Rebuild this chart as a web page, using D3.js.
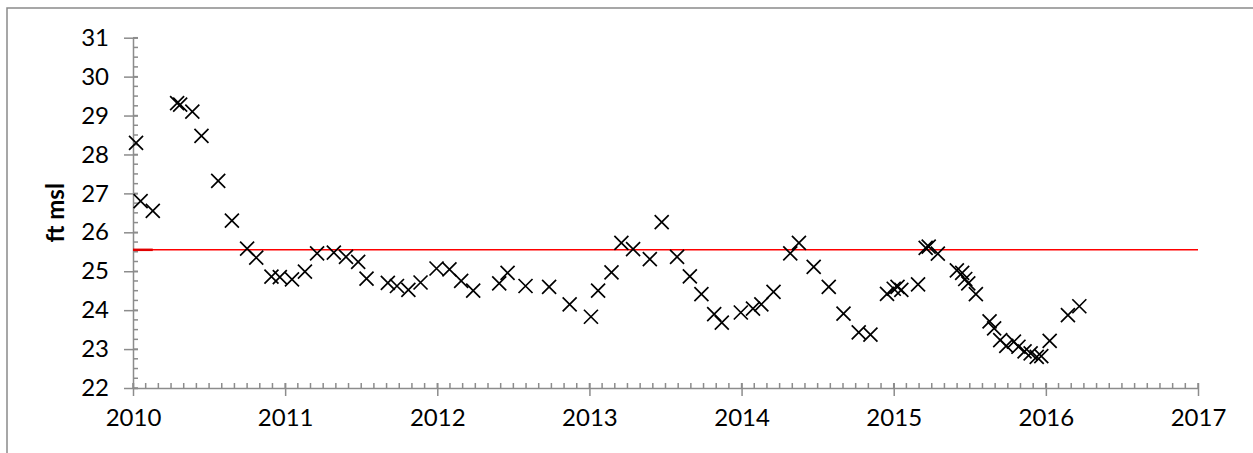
<!DOCTYPE html>
<html>
<head>
<meta charset="utf-8">
<script src="https://cdn.jsdelivr.net/npm/d3@7"></script>
<style>
  html, body { margin: 0; padding: 0; background: #fff; }
  svg { display: block; }
  text { font-family: Lato, "Open Sans", sans-serif; fill: #000; }
</style>
</head>
<body>
<script>
// Water level observations (decimal year, ft msl)
const obsYears = [
  2010.02, 2010.05, 2010.13, 2010.29, 2010.31, 2010.39, 2010.45, 2010.56, 2010.65, 2010.75,
  2010.81, 2010.91, 2010.965, 2011.045, 2011.13, 2011.21, 2011.32, 2011.40, 2011.48, 2011.535,
  2011.675, 2011.735, 2011.81, 2011.89, 2011.995, 2012.08, 2012.157, 2012.236, 2012.407, 2012.462,
  2012.58, 2012.735, 2012.87, 2013.01, 2013.057, 2013.145, 2013.21, 2013.287, 2013.397, 2013.475,
  2013.576, 2013.66, 2013.736, 2013.82, 2013.87, 2013.995, 2014.075, 2014.13, 2014.21, 2014.32,
  2014.377, 2014.474, 2014.573, 2014.67, 2014.77, 2014.847, 2014.956, 2015.0, 2015.025, 2015.05,
  2015.16, 2015.21, 2015.23, 2015.29, 2015.415, 2015.45, 2015.47, 2015.49, 2015.54, 2015.63,
  2015.66, 2015.70, 2015.74, 2015.79, 2015.82, 2015.86, 2015.90, 2015.94, 2015.97, 2016.025,
  2016.145, 2016.22
];
const obsLevels = [
  28.30, 26.80, 26.55, 29.32, 29.28, 29.10, 28.48, 27.32, 26.30, 25.58,
  25.35, 24.86, 24.85, 24.79, 24.99, 25.46, 25.48, 25.37, 25.24, 24.81,
  24.70, 24.62, 24.52, 24.71, 25.07, 25.05, 24.75, 24.50, 24.69, 24.96,
  24.62, 24.60, 24.15, 23.83, 24.50, 24.97, 25.73, 25.57, 25.31, 26.26,
  25.37, 24.87, 24.41, 23.90, 23.68, 23.94, 24.04, 24.15, 24.47, 25.46,
  25.73, 25.11, 24.60, 23.91, 23.43, 23.37, 24.42, 24.55, 24.60, 24.52,
  24.66, 25.60, 25.63, 25.45, 25.02, 24.96, 24.80, 24.69, 24.41, 23.71,
  23.53, 23.23, 23.08, 23.19, 23.06, 22.94, 22.89, 22.80, 22.82, 23.21,
  23.87, 24.10
];

// Reference level line
const refLevel = 25.55;
const refStart = 2010, refEnd = 2017;

// Axis ticks
const yTicks = [22, 23, 24, 25, 26, 27, 28, 29, 30, 31];
const xTicks = [2010, 2011, 2012, 2013, 2014, 2015, 2016, 2017];

const W = 1253, H = 453;
const fontSize = 24;
const svg = d3.select("body").append("svg").attr("width", W).attr("height", H);

// Chart area frame
svg.append("rect")
  .attr("x", 7).attr("y", 8).attr("width", W + 20).attr("height", H + 20)
  .attr("fill", "#fff").attr("stroke", "#8a8a8a").attr("stroke-width", 1.5);

const x = d3.scaleLinear().domain([2010, 2017]).range([133, 1198]);
const y = d3.scaleLinear().domain([22, 31]).range([388, 37.7]);

const axisColor = "#8c8c8c";

// Minor ticks (inside)
const yMinor = d3.range(22, 31.001, 0.25);
svg.append("g").selectAll("line").data(yMinor).join("line")
  .attr("x1", x(2010)).attr("x2", x(2010) + 5)
  .attr("y1", d => y(d)).attr("y2", d => y(d))
  .attr("stroke", axisColor).attr("stroke-width", 1.5);

const xMinor = d3.range(0, 7 * 12 + 1).map(i => 2010 + i / 12);
svg.append("g").selectAll("line").data(xMinor).join("line")
  .attr("x1", d => x(d)).attr("x2", d => x(d))
  .attr("y1", y(22) - 5).attr("y2", y(22))
  .attr("stroke", axisColor).attr("stroke-width", 1.5);

// Y axis
const yAxis = svg.append("g")
  .attr("transform", `translate(${x(2010)},0)`)
  .call(d3.axisLeft(y).tickValues(yTicks).tickSize(9).tickSizeOuter(0).tickPadding(15));
yAxis.select(".domain").attr("stroke", axisColor).attr("stroke-width", 1.5);
yAxis.selectAll(".tick line").attr("stroke", axisColor).attr("stroke-width", 1.5).attr("x2", -9).attr("x1", 5);
yAxis.selectAll(".tick text").attr("font-size", fontSize).attr("font-family", "Lato, 'Open Sans', sans-serif").attr("fill", "#000");

// X axis
const xAxis = svg.append("g")
  .attr("transform", `translate(0,${y(22)})`)
  .call(d3.axisBottom(x).tickValues(xTicks).tickFormat(d3.format("d")).tickSize(8).tickSizeOuter(0).tickPadding(13));
xAxis.select(".domain").attr("stroke", axisColor).attr("stroke-width", 1.5);
xAxis.selectAll(".tick line").attr("stroke", axisColor).attr("stroke-width", 1.5).attr("y1", -5).attr("y2", 8);
xAxis.selectAll(".tick text").attr("font-size", fontSize).attr("font-family", "Lato, 'Open Sans', sans-serif").attr("fill", "#000");

// Y axis title
svg.append("text")
  .attr("transform", `translate(64,${(y(22) + y(31)) / 2}) rotate(-90)`)
  .attr("text-anchor", "middle")
  .attr("font-size", fontSize).attr("font-weight", "bold")
  .text("ft msl");

// Reference line
svg.append("line")
  .attr("x1", x(refStart)).attr("x2", x(refEnd))
  .attr("y1", y(refLevel)).attr("y2", y(refLevel))
  .attr("stroke", "#ff0000").attr("stroke-width", 1.5);
svg.append("line")
  .attr("x1", x(refStart)).attr("x2", x(2010.13))
  .attr("y1", y(refLevel)).attr("y2", y(refLevel))
  .attr("stroke", "#e00000").attr("stroke-width", 2.5);

// X markers
const obs = obsYears.map((t, i) => ({ t, v: obsLevels[i] }));
const s = 7;
svg.append("g").selectAll("path").data(obs).join("path")
  .attr("d", d => {
    const cx = x(d.t), cy = y(d.v);
    return `M${cx - s},${cy - s}L${cx + s},${cy + s}M${cx - s},${cy + s}L${cx + s},${cy - s}`;
  })
  .attr("fill", "none").attr("stroke", "#000").attr("stroke-width", 1.7);
</script>
</body>
</html>
